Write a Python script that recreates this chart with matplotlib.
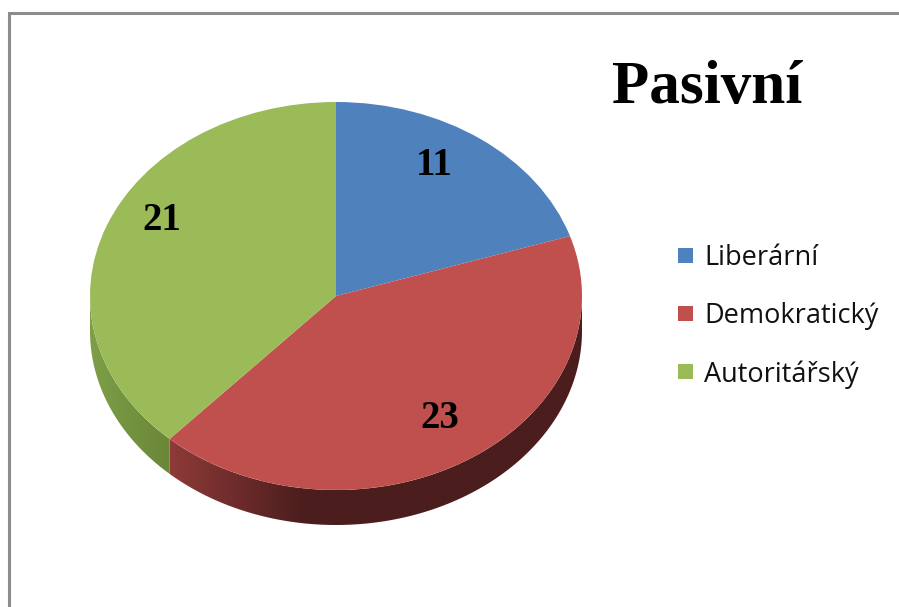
import numpy as np
import matplotlib
matplotlib.use("Agg")
import matplotlib.pyplot as plt
from matplotlib.patches import Polygon, Rectangle
from matplotlib.colors import LinearSegmentedColormap

# ---- data ----
title = "Pasivní"
categories = ["Liberární", "Demokratický", "Autoritářský"]
values = [11, 23, 21]
top_colors = ["#4F81BD", "#C0504D", "#9BBB59"]
side_light = ["#3A6090", "#8E3A38", "#7E9E48"]
side_dark = ["#26405F", "#4B1D1D", "#6A8738"]

W, H = 899, 607
fig = plt.figure(figsize=(W / 100, H / 100), dpi=100)
fig.patch.set_facecolor("white")

# frame (cut off on right and bottom)
fig.add_artist(Rectangle((9 / W, -0.05), 1.2, 1 - 13 / H + 0.05,
                         transform=fig.transFigure, fill=False,
                         edgecolor="#8C8C8C", linewidth=2.2))

# ---- pie geometry (pixels) ----
cx, cy, rx, ry, depth = 336, 296, 246, 194, 35
d = depth / ry
ax = fig.add_axes([(cx - rx) / W, 1 - (cy + ry + depth) / H,
                   2 * rx / W, (2 * ry + depth) / H])

total = sum(values)
cum = np.concatenate([[0], np.cumsum(values)])
starts = 90 - cum[:-1] / total * 360
ends = 90 - cum[1:] / total * 360

# sides (front visible part: angles between -180 and 0)
for i in range(len(values)):
    a, b = ends[i], starts[i]
    lo, hi = max(a, -180), min(b, 0)
    if lo >= hi:
        continue
    t = np.radians(np.linspace(lo, hi, 200))
    xs = np.cos(t)
    ys = np.sin(t)
    px = np.concatenate([xs, xs[::-1]])
    py = np.concatenate([ys, ys[::-1] - d])
    poly = Polygon(np.column_stack([px, py]), closed=True,
                   facecolor="none", edgecolor="none")
    ax.add_patch(poly)
    cmap = LinearSegmentedColormap.from_list("s", [side_light[i], side_dark[i]])
    x0, x1 = xs.min(), xs.max()
    grad_x = np.linspace(-1, 1, 400)
    if i == 1:
        g = np.clip((grad_x - x0) / 0.55, 0, 1)
    else:
        g = np.clip((grad_x - x0) / max(x1 - x0, 1e-6), 0, 1)
    img = ax.imshow(g[np.newaxis, :], cmap=cmap, vmin=0, vmax=1,
                    extent=[-1, 1, -1 - d, 1], aspect="auto",
                    interpolation="bilinear", zorder=1)
    img.set_clip_path(poly)

wedges, _ = ax.pie(values, colors=top_colors, startangle=90,
                   counterclock=False, radius=1,
                   wedgeprops=dict(linewidth=0, zorder=2))
for w in wedges:
    w.set_zorder(2)

ax.set_xlim(-1, 1)
ax.set_ylim(-1 - d, 1)
ax.set_aspect("auto")
ax.axis("off")

# data labels (layout positions in pie-axes data units)
label_pos = [(0.40, 0.675), (0.423, -0.63), (-0.707, 0.39)]
for v, (lx, ly) in zip(values, label_pos):
    ax.text(lx, ly, str(v), ha="center", va="center", fontsize=28,
            fontweight="bold", family="Liberation Serif", color="black",
            zorder=5)

# title
fig.text(612 / W, 1 - 103 / H, title, ha="left", va="baseline",
         fontsize=44, fontweight="bold", family="Liberation Serif")

# legend
leg_y = [255, 313, 371]
for lab, col, yy in zip(categories, top_colors, leg_y):
    fig.add_artist(Rectangle((678 / W, 1 - (yy + 7.5) / H), 15 / W, 15 / H,
                             transform=fig.transFigure, facecolor=col,
                             edgecolor="none"))
    fig.text(704 / W, 1 - yy / H, lab, ha="left", va="center_baseline",
             fontsize=19.5, family="Open Sans", color="#111111")

fig.savefig("out.png", dpi=100, facecolor="white")
